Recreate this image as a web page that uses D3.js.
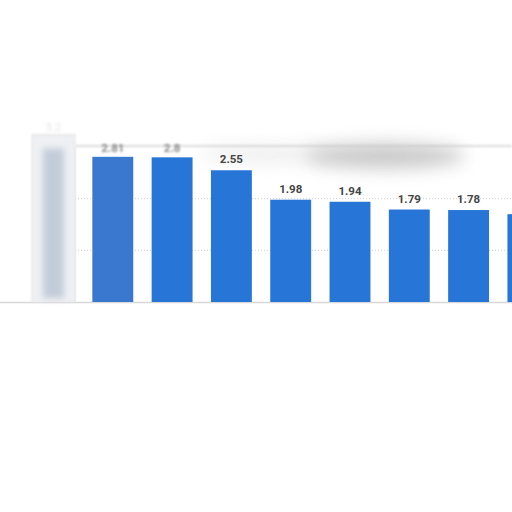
<!DOCTYPE html>
<html><head><meta charset="utf-8">
<script src="https://cdn.jsdelivr.net/npm/d3@7"></script>
<style>html,body{margin:0;padding:0;background:#fff;}svg{display:block;}</style>
</head><body>
<script>
const categories = ["c0","c1","c2","c3","c4","c5","c6","c7","c8"];
const values = [3.2, 2.81, 2.8, 2.55, 1.98, 1.94, 1.79, 1.78, 1.7];
const labels = ["", "2.81", "2.8", "2.55", "1.98", "1.94", "1.79", "1.78", ""];
const gridTicks = [1, 2, 3];

const W = 512, H = 512;
const svg = d3.select("body").append("svg").attr("width", W).attr("height", H);
const defs = svg.append("defs");
function blur(id, sd) {
  defs.append("filter").attr("id", id).attr("filterUnits", "userSpaceOnUse")
    .attr("x", -50).attr("y", -50).attr("width", W + 100).attr("height", H + 100)
    .append("feGaussianBlur").attr("stdDeviation", sd);
}
blur("blur3", 3); blur("blur1", 0.8); blur("blur8", 9); blur("blur2", 1.6);

const x = d3.scaleBand().domain(categories).range([23.85, 23.85 + 59.3 * 9]).paddingInner(0.31).paddingOuter(0.155);
const y = d3.scaleLinear().domain([0, 3]).range([302, 147]);

// smudge
svg.append("ellipse").attr("cx", 385).attr("cy", 156).attr("rx", 80).attr("ry", 12)
  .attr("fill", "#999").attr("opacity", 0.55).attr("filter", "url(#blur8)");
svg.append("ellipse").attr("cx", 270).attr("cy", 154).attr("rx", 70).attr("ry", 7)
  .attr("fill", "#c4c4c4").attr("opacity", 0.35).attr("filter", "url(#blur8)");

// gridlines
svg.selectAll("line.grid").data(gridTicks.filter(d => d < 3)).enter().append("line")
  .attr("x1", 75).attr("x2", W).attr("y1", d => y(d)).attr("y2", d => y(d))
  .attr("stroke", "#cfcfcf").attr("stroke-dasharray", "1,2").attr("stroke-width", 1);
svg.append("line").attr("x1", 75).attr("x2", W).attr("y1", y(3) - 1).attr("y2", y(3) - 1)
  .attr("stroke", "#bcbcbc").attr("stroke-width", 1.2).attr("filter", "url(#blur1)");
svg.append("line").attr("x1", 75).attr("x2", 75).attr("y1", y(3)).attr("y2", y(0))
  .attr("stroke", "#e4e4e4").attr("stroke-width", 1);

// baseline
svg.append("line").attr("x1", 0).attr("x2", W).attr("y1", y(0) + 0.5).attr("y2", y(0) + 0.5)
  .attr("stroke", "#d8d8d8").attr("stroke-width", 1.5);

// ghost bar
const g0 = categories[0];
svg.append("rect").attr("x", x(g0) - 1).attr("y", y(values[0]) - 2).attr("width", x.bandwidth() + 2).attr("height", y(0) - y(values[0]) + 2)
  .attr("fill", "#eef0f3").attr("stroke", "#e2e2e2").attr("filter", "url(#blur1)");
svg.append("rect").attr("x", x(g0) + 10).attr("y", y(values[0]) + 12).attr("width", x.bandwidth() - 20).attr("height", y(0) - y(values[0]) - 16)
  .attr("fill", "#c3ccd9").attr("filter", "url(#blur3)");
svg.append("text").attr("x", x(g0) + x.bandwidth() / 2).attr("y", y(values[0]) - 6)
  .attr("text-anchor", "middle").attr("font-family", "Roboto, sans-serif").attr("font-size", 11)
  .attr("fill", "#e4e4e4").attr("filter", "url(#blur2)").text("3.2");

// bars
svg.selectAll("rect.bar").data(categories.slice(1)).enter().append("rect")
  .attr("x", d => x(d)).attr("width", x.bandwidth())
  .attr("y", (d, i) => y(values[i + 1])).attr("height", (d, i) => y(0) - y(values[i + 1]))
  .attr("fill", (d, i) => i === 0 ? "#3a78cf" : "#2875d8");

// labels
svg.selectAll("text.lbl").data(categories).enter().append("text")
  .attr("x", d => x(d) + x.bandwidth() / 2)
  .attr("y", (d, i) => y(values[i]) - (i <= 2 ? 5 : 7))
  .attr("text-anchor", "middle")
  .attr("font-family", "Roboto, 'DejaVu Sans', sans-serif").attr("font-size", 11.5).attr("font-weight", "bold")
  .attr("fill", (d, i) => i <= 2 ? "#888" : "#444")
  .attr("filter", (d, i) => i <= 2 ? "url(#blur1)" : null)
  .text((d, i) => labels[i]);
</script>
</body></html>
